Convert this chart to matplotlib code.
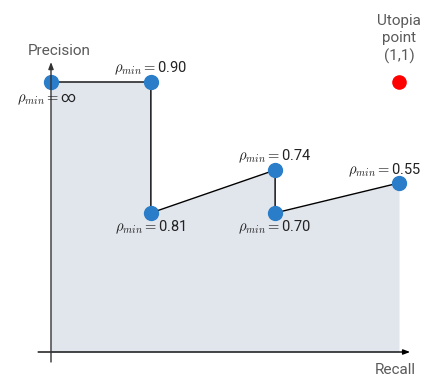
import matplotlib
matplotlib.use("Agg")
import matplotlib.pyplot as plt

plt.rcParams['font.family'] = ['Roboto', 'DejaVu Sans']
plt.rcParams['mathtext.fontset'] = 'cm'

# points of the precision / recall curve
recall = [0.0, 0.287, 0.287, 0.644, 0.644, 1.0]
precision = [1.0, 1.0, 0.515, 0.674, 0.515, 0.626]
rho_labels = ["\u221e", "0.90", "0.81", "0.74", "0.70", "0.55"]
utopia = (1.0, 1.0)

# label offsets in pixels (dx, dy)
offsets = [(-4, -17), (0, 14), (0, -14), (0, 14), (0, -14), (-14, 13)]

fig = plt.figure(figsize=(4.38, 3.78), dpi=100)
ax = fig.add_axes([0, 0, 1, 1])
ax.set_xlim(-51 / 348, 387 / 348)
ax.set_ylim(-26 / 270, 352 / 270)
ax.axis("off")

ax.fill_between(recall, precision, 0, color="#e1e5ec", lw=0, zorder=1)
ax.plot(recall, precision, color="black", lw=1, zorder=2)
ax.plot(recall, precision, "o", color="#2a7dc9", ms=10, zorder=3)
ax.plot(*utopia, "o", color="red", ms=9.5, zorder=3)

# axes with arrow heads
ax.annotate("", xy=(1.032, 0), xytext=(-0.037, 0),
            arrowprops=dict(arrowstyle="-|>,head_length=0.4,head_width=0.15",
                            color="black", lw=1, shrinkA=0, shrinkB=0))
ax.annotate("", xy=(0, 1.074), xytext=(0, -0.037),
            arrowprops=dict(arrowstyle="-|>,head_length=0.4,head_width=0.15",
                            color="#333333", lw=1, shrinkA=0, shrinkB=0))

for x, y, lab, (dx, dy) in zip(recall, precision, rho_labels, offsets):
    ax.annotate(r"$\rho_{min}=$" + lab, (x, y), xytext=(dx, dy),
                textcoords="offset pixels", ha="center", va="center",
                fontsize=10.5, color="#222222")

ax.text(0.023, 1.115, "Precision", ha="center", va="center",
        fontsize=11, color="#5a5a5a")
ax.text(0.989, -0.067, "Recall", ha="center", va="center",
        fontsize=11, color="#5a5a5a")
ax.text(1.0, 1.16, "Utopia\npoint\n(1,1)", ha="center", va="center",
        fontsize=11, color="#5a5a5a", linespacing=1.3)

fig.savefig("out.png", dpi=100)
